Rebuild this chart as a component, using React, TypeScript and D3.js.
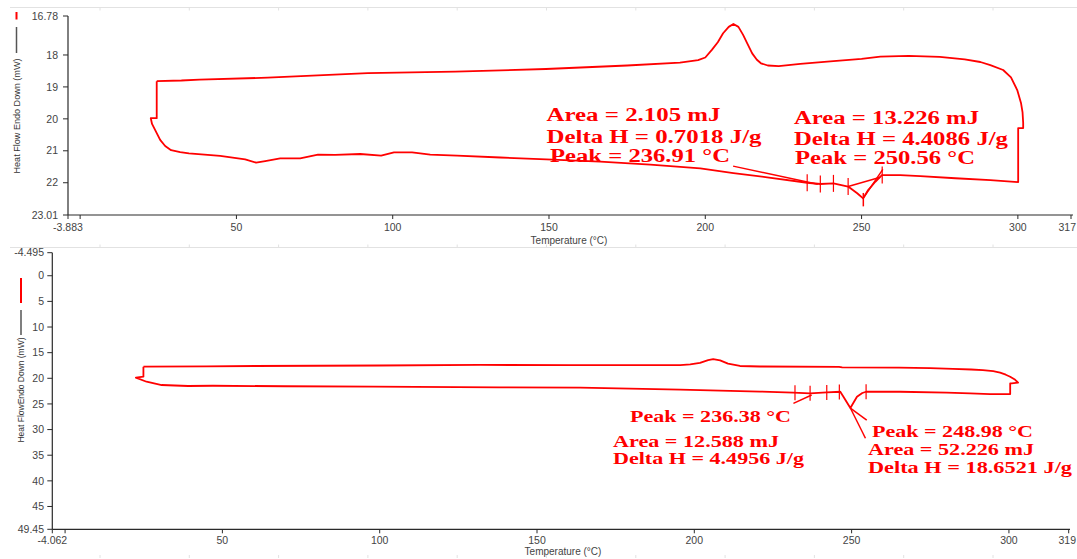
import React from 'react';
import * as d3 from 'd3';

// ---------- Top panel data (Temperature °C, Heat Flow mW) ----------
const topTemp = [
  24.5, 32.4, 38.2, 60, 92, 120, 149, 175, 191.9, 197.7, 200, 202.1, 204, 205.7, 207.5, 209,
  210.6, 212.1, 213.5, 215, 216.5, 217.8, 220, 223.5, 230.4, 240, 250, 256, 265, 275, 283,
  288, 291.2, 295.3, 297.8, 299.8, 301.0, 301.5, 301.7, 301.7, 300.1, 300.1, 291.2, 280,
  268.8, 262.4, 256.5, 254.4, 252.1, 250.5, 248.6, 245.7, 241, 236.8, 232.6, 219.8, 209,
  198.4, 182.4, 166.4, 149.1, 134.4, 120.6, 112, 106.2, 100.4, 96.3, 89.6, 81.6, 76.1,
  70.4, 64, 59.2, 56.3, 52.8, 44.8, 34.8, 32, 29.1, 27.2, 25.6, 24.3, 23.0, 22.6, 24.5, 24.5,
];
const topFlow = [
  18.82, 18.8, 18.77, 18.71, 18.57, 18.52, 18.44, 18.33, 18.24, 18.16, 18.08, 17.84, 17.6,
  17.32, 17.12, 17.03, 17.12, 17.37, 17.65, 17.95, 18.15, 18.26, 18.33, 18.35, 18.28, 18.2,
  18.12, 18.05, 18.03, 18.06, 18.14, 18.22, 18.32, 18.47, 18.7, 19.1, 19.5, 19.8, 20.13,
  20.29, 20.29, 21.98, 21.92, 21.86, 21.79, 21.76, 21.76, 21.97, 22.23, 22.49, 22.33, 22.12,
  22.02, 22.04, 22.0, 21.83, 21.7, 21.55, 21.43, 21.34, 21.27, 21.21, 21.15, 21.12, 21.05,
  21.05, 21.15, 21.1, 21.13, 21.12, 21.24, 21.24, 21.32, 21.37, 21.27, 21.16, 21.08, 21.04,
  20.98, 20.85, 20.66, 20.41, 20.16, 19.98, 19.98, 18.82,
];
// integration limit markers (top)
const topMarkTemp = [232.6, 236.8, 241.0, 245.7, 256.6];
const topMarkFlow = [22.0, 22.04, 22.02, 22.12, 21.76];
// construction lines (top): from (T1, v1) to (T2, v2)
const topGuideT1 = [208.9, 245.7, 250.5, 250.56];
const topGuideV1 = [21.48, 22.12, 22.49, 22.32];
const topGuideT2 = [236.0, 256.0, 256.8, 250.56];
const topGuideV2 = [22.05, 21.83, 21.58, 22.74];

// ---------- Bottom panel data ----------
const botTemp = [
  24.9, 45, 60.4, 100, 131.9, 160, 180, 195.5, 198.7, 201.8, 204.4, 206, 208.2, 210.7, 214.5,
  220.9, 246, 247, 265, 275, 282.2, 288, 291.7, 295, 297.2, 299, 300.4, 302, 302.9, 300.9,
  300.4, 300.4, 294, 287.7, 280.2, 265.4, 254.6, 253.4, 251.7, 249.6, 247.4, 246.4, 242.1,
  236.8, 231.4, 220.9, 195.5, 163.7, 138, 97.9, 70, 47, 39.1, 30.7, 25.9, 22.5, 24.9, 24.9,
];
const botFlow = [
  17.74, 17.68, 17.6, 17.5, 17.4, 17.42, 17.42, 17.45, 17.3, 17.0, 16.45, 16.25, 16.5, 17.15,
  17.6, 17.7, 17.78, 17.86, 17.92, 18.0, 18.15, 18.28, 18.4, 18.62, 18.91, 19.3, 19.69, 20.3,
  20.86, 20.98, 21.0, 23.07, 23.07, 22.93, 22.81, 22.62, 22.62, 22.87, 23.6, 25.8, 23.6,
  22.62, 22.73, 22.93, 22.81, 22.58, 22.19, 21.8, 21.76, 21.64, 21.55, 21.45, 21.5, 21.31,
  20.67, 19.88, 19.69, 17.74,
];
const botMarkTemp = [232.0, 236.8, 242.1, 246.1, 254.6];
const botMarkFlow = [22.8, 22.9, 22.75, 22.65, 22.62];
const botGuideT1 = [231.5, 249.6, 249.6];
const botGuideV1 = [24.88, 25.8, 25.8];
const botGuideT2 = [237.3, 254.4, 254.8];
const botGuideV2 = [23.26, 31.7, 28.14];

// ---------- Axis ticks ----------
const topXTicks = [-3.883, 0, 50, 100, 150, 200, 250, 300, 317];
const topXLabels = ['-3.883', '', '50', '100', '150', '200', '250', '300', '317'];
const topYTicks = [16.78, 18, 19, 20, 21, 22, 23.01];
const topYLabels = ['16.78', '18', '19', '20', '21', '22', '23.01'];
const botXTicks = [-4.062, 0, 50, 100, 150, 200, 250, 300, 319];
const botXLabels = ['-4.062', '', '50', '100', '150', '200', '250', '300', '319'];
const botYTicks = [-4.495, 0, 5, 10, 15, 20, 25, 30, 35, 40, 45, 49.45];
const botYLabels = ['-4.495', '0', '5', '10', '15', '20', '25', '30', '35', '40', '45', '49.45'];

// ---------- Annotation texts ----------
const topLeftNotes = ['Area = 2.105 mJ', 'Delta H = 0.7018 J/g', 'Peak = 236.91 °C'];
const topRightNotes = ['Area = 13.226 mJ', 'Delta H = 4.4086 J/g', 'Peak = 250.56 °C'];
const botLeftNotes = ['Peak = 236.38 °C', 'Area = 12.588 mJ', 'Delta H = 4.4956 J/g'];
const botRightNotes = ['Peak = 248.98 °C', 'Area = 52.226 mJ', 'Delta H = 18.6521 J/g'];

const RED = '#ff0000';
const AXIS = '#2a2a2a';
const LABEL = '#444';
const SANS = '"Liberation Sans", Arial, sans-serif';
const SERIF = '"Liberation Serif", "Times New Roman", serif';

type Scale = d3.ScaleLinear<number, number>;

function Panel(props: {
  x: Scale; y: Scale; temp: number[]; flow: number[];
  markT: number[]; markV: number[]; markH: number;
  gT1: number[]; gV1: number[]; gT2: number[]; gV2: number[];
  xTicks: number[]; xLabels: string[]; yTicks: number[]; yLabels: string[];
  xLabelY: number; titleY: number; titleX: number; yLabelX: number; axisEnd: number;
}) {
  const { x, y, temp, flow } = props;
  const line = d3.line<number>().x((_, i) => x(temp[i])).y((_, i) => y(flow[i]));
  const [x0] = x.range();
  const [y0, y1] = y.range();
  const nX = props.xTicks.length;
  return (
    <g>
      <path d={line(temp) || ''} fill="none" stroke={RED} strokeWidth={1.8} strokeLinejoin="round" />
      {props.gT1.map((t, i) => (
        <line key={'g' + i} x1={x(t)} y1={y(props.gV1[i])} x2={x(props.gT2[i])} y2={y(props.gV2[i])}
          stroke={RED} strokeWidth={1.5} />
      ))}
      {props.markT.map((t, i) => (
        <line key={'m' + i} x1={x(t)} x2={x(t)} y1={y(props.markV[i]) - props.markH / 2}
          y2={y(props.markV[i]) + props.markH / 2} stroke={RED} strokeWidth={1.2} />
      ))}
      <line x1={x0} x2={x0} y1={y0} y2={y1} stroke={AXIS} strokeWidth={1.2} />
      <line x1={x0} x2={props.axisEnd} y1={y1} y2={y1} stroke={AXIS} strokeWidth={1.2} />
      {props.yTicks.map((v, i) => (
        <g key={'yt' + i}>
          <line x1={x0 - 5} x2={x0} y1={y(v)} y2={y(v)} stroke={AXIS} strokeWidth={1} />
          <text x={props.yLabelX} y={y(v)} dy="0.35em" textAnchor="end" fontFamily={SANS}
            fontSize={10.5} fill={LABEL}>{props.yLabels[i]}</text>
        </g>
      ))}
      {props.xTicks.map((t, i) => (
        <g key={'xt' + i}>
          <line x1={x(t)} x2={x(t)} y1={y1} y2={y1 + 4} stroke={AXIS} strokeWidth={1} />
          <text x={i === nX - 1 ? 1076 : x(t)} y={props.xLabelY} dy="0.35em"
            textAnchor={i === nX - 1 ? 'end' : 'middle'} fontFamily={SANS}
            fontSize={10.5} fill={LABEL}>{props.xLabels[i]}</text>
        </g>
      ))}
      <text x={props.titleX} y={props.titleY} dy="0.35em" textAnchor="middle" fontFamily={SANS}
        fontSize={10} fill={LABEL}>Temperature (°C)</text>
    </g>
  );
}

function Notes(props: { lines: string[]; xs: number[]; baselines: number[]; widths: number[]; size: number }) {
  return (
    <g>
      {props.lines.map((s, i) => (
        <text key={i} x={props.xs[i]} y={props.baselines[i]} fontFamily={SERIF} fontWeight="bold"
          fontSize={props.size} fill={RED} textLength={props.widths[i]} lengthAdjust="spacingAndGlyphs">
          {s}
        </text>
      ))}
    </g>
  );
}

export default function App() {
  const xT = d3.scaleLinear().domain([-3.883, 317]).range([68, 1071]);
  const yT = d3.scaleLinear().domain([16.78, 23.01]).range([16, 215]);
  const xB = d3.scaleLinear().domain([-4.062, 319]).range([52.3, 1068.7]);
  const yB = d3.scaleLinear().domain([-4.495, 49.45]).range([252.7, 529.3]);

  const frameTicks = d3.range(0, 12).map((k) => 100 + k * 89.3);

  return (
    <svg width={1077} height={559} viewBox="0 0 1077 559"
      style={{ position: 'absolute', left: 0, top: 0, display: 'block', background: '#fff' }}>
      <rect x={0} y={0} width={1077} height={559} fill="#fff" />
      <line x1={10} x2={1077} y1={7.5} y2={7.5} stroke="#e2e2e2" strokeWidth={1} />
      <line x1={10} x2={1077} y1={247.5} y2={247.5} stroke="#e2e2e2" strokeWidth={1} />
      {frameTicks.map((fx, i) => (
        <g key={'f' + i}>
          <line x1={fx} x2={fx} y1={7.5} y2={10.5} stroke="#e2e2e2" />
          <line x1={fx} x2={fx} y1={244.5} y2={247.5} stroke="#e2e2e2" />
          <line x1={fx} x2={fx} y1={555} y2={558} stroke="#e2e2e2" />
        </g>
      ))}

      <line x1={16.5} x2={16.5} y1={12} y2={19.5} stroke={RED} strokeWidth={2} />
      <line x1={16.5} x2={16.5} y1={27} y2={53} stroke="#555" strokeWidth={1.5} />
      <text transform="translate(19.5,116) rotate(-90)" textAnchor="middle" fontFamily={SANS}
        fontSize={9} fill="#333" textLength={115} lengthAdjust="spacingAndGlyphs">Heat Flow Endo Down (mW)</text>

      <line x1={21} x2={21} y1={278} y2={303} stroke={RED} strokeWidth={2} />
      <line x1={21} x2={21} y1={310} y2={335} stroke="#555" strokeWidth={1.5} />
      <text transform="translate(24,390) rotate(-90)" textAnchor="middle" fontFamily={SANS}
        fontSize={8.5} fill="#333" textLength={105} lengthAdjust="spacingAndGlyphs">Heat FlowEndo Down (mW)</text>

      <Panel x={xT} y={yT} temp={topTemp} flow={topFlow}
        markT={topMarkTemp} markV={topMarkFlow} markH={17}
        gT1={topGuideT1} gV1={topGuideV1} gT2={topGuideT2} gV2={topGuideV2}
        xTicks={topXTicks} xLabels={topXLabels} yTicks={topYTicks} yLabels={topYLabels}
        xLabelY={227} titleY={240} titleX={569} yLabelX={58} axisEnd={1073} />

      <Panel x={xB} y={yB} temp={botTemp} flow={botFlow}
        markT={botMarkTemp} markV={botMarkFlow} markH={15}
        gT1={botGuideT1} gV1={botGuideV1} gT2={botGuideT2} gV2={botGuideV2}
        xTicks={botXTicks} xLabels={botXLabels} yTicks={botYTicks} yLabels={botYLabels}
        xLabelY={540} titleY={551} titleX={563} yLabelX={44} axisEnd={1070} />

      <Notes lines={topLeftNotes} xs={[546.5, 546.5, 550]} baselines={[121, 142.5, 162]}
        widths={[174, 215, 180]} size={18} />
      <Notes lines={topRightNotes} xs={[794, 794, 795]} baselines={[123.5, 144.5, 164]}
        widths={[185, 214, 180]} size={18} />
      <Notes lines={botLeftNotes} xs={[630, 613, 613]} baselines={[421.5, 446.5, 464]}
        widths={[161, 166, 191]} size={17} />
      <Notes lines={botRightNotes} xs={[872, 868, 868]} baselines={[437, 455, 472.5]}
        widths={[161, 166, 204]} size={17} />
    </svg>
  );
}
